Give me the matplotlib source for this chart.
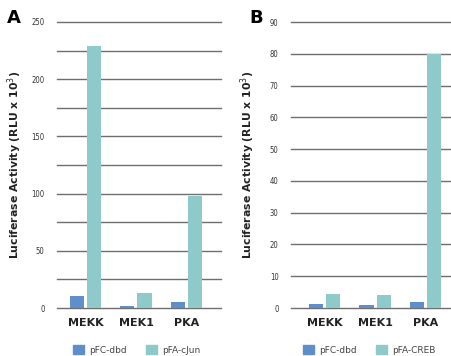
import matplotlib.pyplot as plt
from matplotlib.patches import Patch

# luciferase reporter data, RLU x 10^3
kinases = ["MEKK", "MEK1", "PKA"]
fc_dbd_a = [10.5, 2.0, 5.5]
fa_cjun = [229, 13, 98]
fc_dbd_b = [1.3, 1.0, 1.9]
fa_creb = [4.4, 4.1, 80]

blue = "#5f8fca"
teal = "#8dcac9"
grid_col = "#6e6e6e"
W, H = 451, 356

fig = plt.figure(figsize=(W / 100, H / 100), dpi=100)


def panel(rect, fc, fa, ymax, step, label_step, xlim, letter, letter_x, ylab_x,
          names, leg_x):
    ax = fig.add_axes([rect[0] / W, 1 - rect[3] / H, (rect[2] - rect[0]) / W,
                       (rect[3] - rect[1]) / H])
    x = list(range(len(kinases)))
    bw = 0.28
    ax.bar([i - bw / 2 - 0.03 for i in x], fc, width=bw, color=blue, zorder=3)
    ax.bar([i + bw / 2 + 0.03 for i in x], fa, width=bw, color=teal, zorder=3)
    ax.set_xlim(*xlim)
    ax.set_ylim(0, ymax)
    for v in range(0, ymax + 1, step):
        ax.axhline(v, color=grid_col, lw=1.0, zorder=1, clip_on=False)
    ticks = list(range(0, ymax + 1, label_step))
    ax.set_yticks(ticks)
    ax.set_yticklabels([str(t) for t in ticks], fontsize=5.5, color="#333333",
                       fontstretch="condensed")
    ax.tick_params(axis="y", length=0, pad=9)
    ax.set_xticks(x)
    ax.set_xticklabels(kinases, fontsize=8, fontweight="bold", color="#222222")
    ax.tick_params(axis="x", length=0, pad=7)
    for s in ax.spines.values():
        s.set_visible(False)
    fig.text(letter_x / W, 1 - 18 / H, letter, fontsize=13, fontweight="bold",
             ha="center", va="center")
    fig.text(ylab_x / W, 1 - 165 / H, "Luciferase Activity (RLU x 10$^3$)",
             rotation=90, fontsize=7.8, fontweight="bold", ha="center",
             va="center", color="#222222")
    handles = [Patch(color=blue, label=names[0]), Patch(color=teal, label=names[1])]
    fig.legend(handles=handles, loc="center left",
               bbox_to_anchor=(leg_x / W, 1 - 350 / H), ncol=2, frameon=False,
               fontsize=6.5, handlelength=1.2, handleheight=1.1,
               columnspacing=2.2, handletextpad=0.55, labelcolor="#444444")
    return ax


panel((57, 22, 221, 308), fc_dbd_a, fa_cjun, 250, 25, 50, (-0.56, 2.68),
      "A", 14, 15, ("pFC-dbd", "pFA-cJun"), 65)
panel((291, 22, 451, 308), fc_dbd_b, fa_creb, 90, 10, 10, (-0.66, 2.5),
      "B", 256, 248, ("pFC-dbd", "pFA-CREB"), 295)

fig.savefig("out.png", dpi=100)
